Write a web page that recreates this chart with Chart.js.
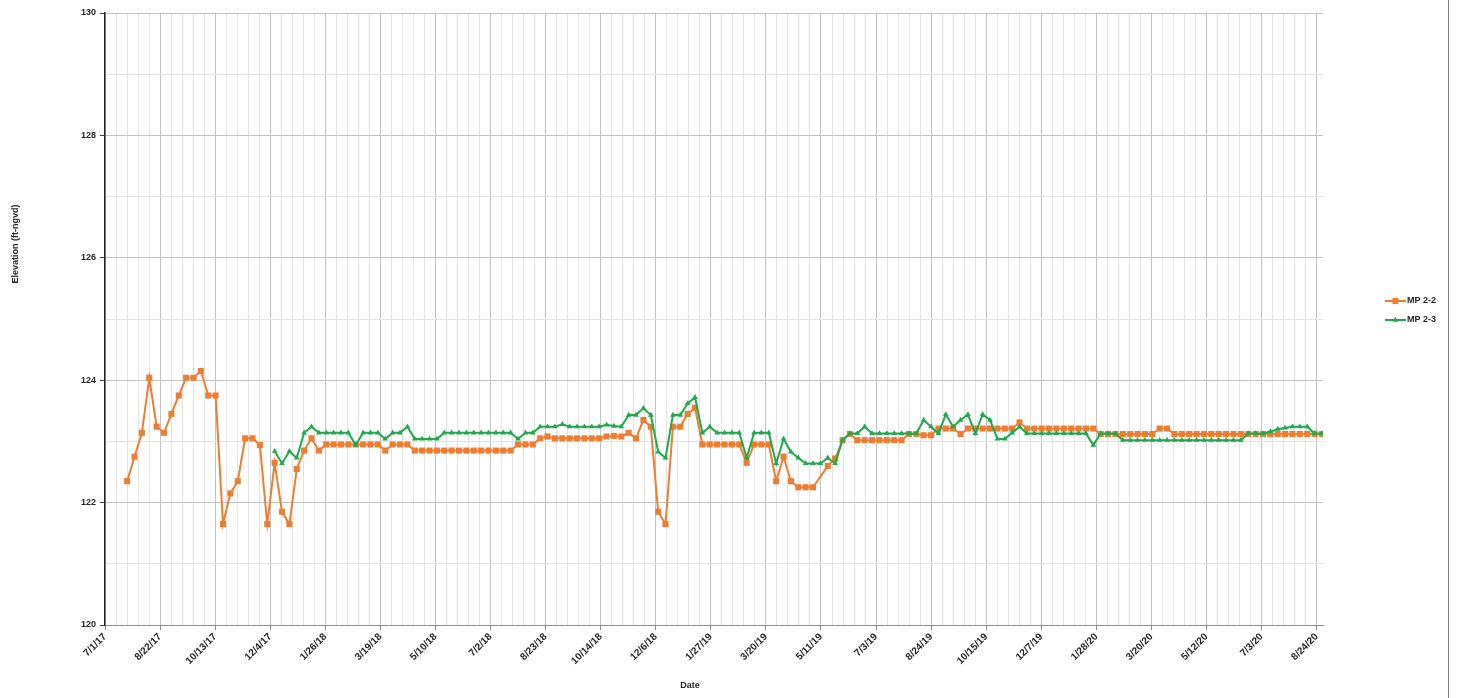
<!DOCTYPE html>
<html>
<head>
<meta charset="utf-8">
<script src="https://cdn.jsdelivr.net/npm/chart.js@4/dist/chart.umd.min.js"></script>
<style>
  body { margin: 0; background: #fff; }
  #wrap { position: relative; width: 1457px; height: 698px; }
  #edge { position: absolute; left: 1448px; top: 0; width: 1px; height: 698px; background: #7f7f7f; }
</style>
</head>
<body>
<div id="wrap">
  <canvas id="chartNivel" width="1457" height="698"></canvas>
  <div id="edge"></div>
</div>
<script>
// fechas de medicion (semanal)
const sampleDates = [
  '2017-07-22','2017-07-29','2017-08-05','2017-08-12','2017-08-19','2017-08-26','2017-09-02','2017-09-09',
  '2017-09-16','2017-09-23','2017-09-30','2017-10-07','2017-10-14','2017-10-21','2017-10-28','2017-11-04',
  '2017-11-11','2017-11-18','2017-11-25','2017-12-02','2017-12-09','2017-12-16','2017-12-23','2017-12-30',
  '2018-01-06','2018-01-13','2018-01-20','2018-01-27','2018-02-03','2018-02-10','2018-02-17','2018-02-24',
  '2018-03-03','2018-03-10','2018-03-17','2018-03-24','2018-03-31','2018-04-07','2018-04-14','2018-04-21',
  '2018-04-28','2018-05-05','2018-05-12','2018-05-19','2018-05-26','2018-06-02','2018-06-09','2018-06-16',
  '2018-06-23','2018-06-30','2018-07-07','2018-07-14','2018-07-21','2018-07-28','2018-08-04','2018-08-11',
  '2018-08-18','2018-08-25','2018-09-01','2018-09-08','2018-09-15','2018-09-22','2018-09-29','2018-10-06',
  '2018-10-13','2018-10-20','2018-10-27','2018-11-03','2018-11-10','2018-11-17','2018-11-24','2018-12-01',
  '2018-12-08','2018-12-15','2018-12-22','2018-12-29','2019-01-05','2019-01-12','2019-01-19','2019-01-26',
  '2019-02-02','2019-02-09','2019-02-16','2019-02-23','2019-03-02','2019-03-09','2019-03-16','2019-03-23',
  '2019-03-30','2019-04-06','2019-04-13','2019-04-20','2019-04-27','2019-05-04','2019-05-11','2019-05-18',
  '2019-05-25','2019-06-01','2019-06-08','2019-06-15','2019-06-22','2019-06-29','2019-07-06','2019-07-13',
  '2019-07-20','2019-07-27','2019-08-03','2019-08-10','2019-08-17','2019-08-24','2019-08-31','2019-09-07',
  '2019-09-14','2019-09-21','2019-09-28','2019-10-05','2019-10-12','2019-10-19','2019-10-26','2019-11-02',
  '2019-11-09','2019-11-16','2019-11-23','2019-11-30','2019-12-07','2019-12-14','2019-12-21','2019-12-28',
  '2020-01-04','2020-01-11','2020-01-18','2020-01-25','2020-02-01','2020-02-08','2020-02-15','2020-02-22',
  '2020-02-29','2020-03-07','2020-03-14','2020-03-21','2020-03-28','2020-04-04','2020-04-11','2020-04-18',
  '2020-04-25','2020-05-02','2020-05-09','2020-05-16','2020-05-23','2020-05-30','2020-06-06','2020-06-13',
  '2020-06-20','2020-06-27','2020-07-04','2020-07-11','2020-07-18','2020-07-25','2020-08-01','2020-08-08',
  '2020-08-15','2020-08-22','2020-08-29'
]

const mp22 = [
  122.35,122.75,123.14,124.04,123.24,123.14,123.45,123.75,
  124.04,124.04,124.15,123.75,123.75,121.65,122.15,122.35,
  123.05,123.05,122.94,121.65,122.65,121.85,121.65,122.55,
  122.85,123.05,122.85,122.95,122.95,122.95,122.95,122.95,
  122.95,122.95,122.95,122.85,122.95,122.95,122.95,122.85,
  122.85,122.85,122.85,122.85,122.85,122.85,122.85,122.85,
  122.85,122.85,122.85,122.85,122.85,122.95,122.95,122.95,
  123.05,123.08,123.05,123.05,123.05,123.05,123.05,123.05,
  123.05,123.08,123.09,123.08,123.14,123.05,123.35,123.24,
  121.85,121.65,123.24,123.24,123.45,123.55,122.95,122.95,
  122.95,122.95,122.95,122.95,122.65,122.95,122.95,122.95,
  122.35,122.75,122.35,122.25,122.25,122.25,null,122.60,
  122.72,123.02,123.12,123.02,123.02,123.02,123.02,123.02,
  123.02,123.02,123.12,123.12,123.10,123.10,123.21,123.21,
  123.21,123.12,123.21,123.21,123.21,123.21,123.21,123.21,
  123.21,123.31,123.21,123.21,123.21,123.21,123.21,123.21,
  123.21,123.21,123.21,123.21,123.12,123.12,123.12,123.12,
  123.12,123.12,123.12,123.12,123.21,123.21,123.12,123.12,
  123.12,123.12,123.12,123.12,123.12,123.12,123.12,123.12,
  123.12,123.12,123.12,123.12,123.12,123.12,123.12,123.12,
  123.12,123.12,123.12
]

const mp23 = [
  null,null,null,null,null,null,null,null,
  null,null,null,null,null,null,null,null,
  null,null,null,null,122.84,122.64,122.84,122.73,
  123.14,123.24,123.14,123.14,123.14,123.14,123.14,122.94,
  123.14,123.14,123.14,123.04,123.14,123.14,123.24,123.04,
  123.04,123.04,123.04,123.14,123.14,123.14,123.14,123.14,
  123.14,123.14,123.14,123.14,123.14,123.04,123.14,123.14,
  123.24,123.24,123.24,123.28,123.24,123.24,123.24,123.24,
  123.24,123.27,123.25,123.24,123.43,123.43,123.54,123.43,
  122.83,122.73,123.43,123.43,123.62,123.72,123.14,123.24,
  123.14,123.14,123.14,123.14,122.73,123.14,123.14,123.14,
  122.64,123.04,122.83,122.73,122.64,122.64,122.64,122.73,
  122.64,123.02,123.13,123.13,123.24,123.13,123.13,123.13,
  123.13,123.13,123.13,123.13,123.35,123.24,123.13,123.44,
  123.24,123.35,123.44,123.13,123.44,123.35,123.04,123.04,
  123.14,123.24,123.13,123.13,123.13,123.13,123.13,123.13,
  123.13,123.13,123.13,122.94,123.13,123.13,123.13,123.02,
  123.02,123.02,123.02,123.02,123.02,123.02,123.02,123.02,
  123.02,123.02,123.02,123.02,123.02,123.02,123.02,123.02,
  123.13,123.13,123.13,123.16,123.20,123.22,123.24,123.24,
  123.24,123.13,123.13
]

const tickLabels = ['7/1/17','8/22/17','10/13/17','12/4/17','1/26/18','3/19/18','5/10/18','7/2/18',
  '8/23/18','10/14/18','12/6/18','1/27/19','3/20/19','5/11/19','7/3/19','8/24/19','10/15/19',
  '12/7/19','1/28/20','3/20/20','5/12/20','7/3/20','8/24/20']

const origen = Date.UTC(2017, 6, 1)
const toDay = (s) => {
  const [y, m, d] = s.split('-').map(Number)
  return (Date.UTC(y, m - 1, d) - origen) / 86400000
}
const lastLabelDay = toDay('2020-08-24')
const xMax = toDay('2020-08-30')
const majorStep = lastLabelDay / (tickLabels.length - 1)

const fuente = '"Liberation Sans", Arial, sans-serif'
const textoColor = '#262626'
const naranja = '#ED7D31'
const verde = '#1FA84C'

const serie = (vals) => sampleDates.map((d, i) => ({ x: toDay(d), y: vals[i] }))

const leyenda = {
  id: 'leyenda',
  afterDraw(chart) {
    const ctx = chart.ctx
    ctx.save()
    chart.data.datasets.forEach((ds, i) => {
      const y = 301 + i * 19
      ctx.strokeStyle = ds.borderColor
      ctx.lineWidth = 2
      ctx.beginPath()
      ctx.moveTo(1385, y)
      ctx.lineTo(1406, y)
      ctx.stroke()
      ctx.fillStyle = ds.backgroundColor
      Chart.helpers.drawPoint(ctx, { pointStyle: ds.pointStyle, radius: ds.pointRadius, rotation: 0, borderWidth: 0 }, 1395.5, y)
      ctx.fillStyle = textoColor
      ctx.font = 'bold 9px ' + fuente
      ctx.textAlign = 'left'
      ctx.textBaseline = 'middle'
      ctx.fillText(ds.label, 1407, y)
    })
    // titulos de ejes
    ctx.fillStyle = textoColor
    ctx.font = 'bold 9px ' + fuente
    ctx.textAlign = 'center'
    ctx.textBaseline = 'middle'
    ctx.fillText('Date', 690, 686)
    ctx.translate(16, 244)
    ctx.rotate(-Math.PI / 2)
    ctx.fillText('Elevation (ft-ngvd)', 0, 0)
    ctx.restore()
  }
}

const chartNivel = new Chart(document.getElementById('chartNivel'), {
  type: 'line',
  data: {
    datasets: [{
      label: 'MP 2-2',
      data: serie(mp22),
      borderColor: naranja,
      backgroundColor: naranja,
      borderWidth: 2,
      pointStyle: 'rect',
      pointRadius: 4.3,
      pointBorderWidth: 0,
      spanGaps: true,
      order: 2
    }, {
      label: 'MP 2-3',
      data: serie(mp23),
      borderColor: verde,
      backgroundColor: verde,
      borderWidth: 2,
      pointStyle: 'triangle',
      pointRadius: 3.3,
      pointBorderWidth: 0,
      spanGaps: true,
      order: 1
    }]
  },
  plugins: [leyenda],
  options: {
    responsive: false,
    animation: false,
    layout: { padding: { left: 0, top: 13, right: 134, bottom: 0 } },
    plugins: { legend: { display: false }, tooltip: { enabled: false } },
    scales: {
      x: {
        type: 'linear',
        min: 0,
        max: xMax,
        afterBuildTicks: (scale) => {
          const ticks = []
          for (let k = 0; k <= (tickLabels.length - 1) * 5; k++) ticks.push({ value: k * majorStep / 5 })
          scale.ticks = ticks
        },
        afterFit: (scale) => { scale.height = 73 },
        grid: {
          color: (c) => c.index % 5 === 0 ? '#C2C2C2' : '#E3E3E3',
          tickColor: (c) => c.index % 5 === 0 ? '#8C8C8C' : 'rgba(0,0,0,0)',
          tickLength: 5
        },
        border: { color: '#8C8C8C', width: 1 },
        ticks: {
          autoSkip: false,
          minRotation: 45,
          maxRotation: 45,
          padding: 1,
          color: textoColor,
          font: { family: fuente, size: 10, weight: 'bold' },
          callback: (v, i) => i % 5 === 0 ? tickLabels[i / 5] : ''
        }
      },
      y: {
        min: 120,
        max: 130,
        afterFit: (scale) => { scale.width = 105 },
        grid: {
          color: (c) => c.tick && c.tick.value % 2 === 0 ? '#C2C2C2' : '#E3E3E3',
          tickColor: (c) => c.tick && c.tick.value % 2 === 0 ? '#404040' : 'rgba(0,0,0,0)',
          tickLength: 5
        },
        border: { color: '#262626', width: 1.5 },
        ticks: {
          stepSize: 1,
          padding: 4,
          color: textoColor,
          font: { family: fuente, size: 9, weight: 'bold' },
          callback: (v) => v % 2 === 0 ? v : ''
        }
      }
    }
  }
})
</script>
</body>
</html>
